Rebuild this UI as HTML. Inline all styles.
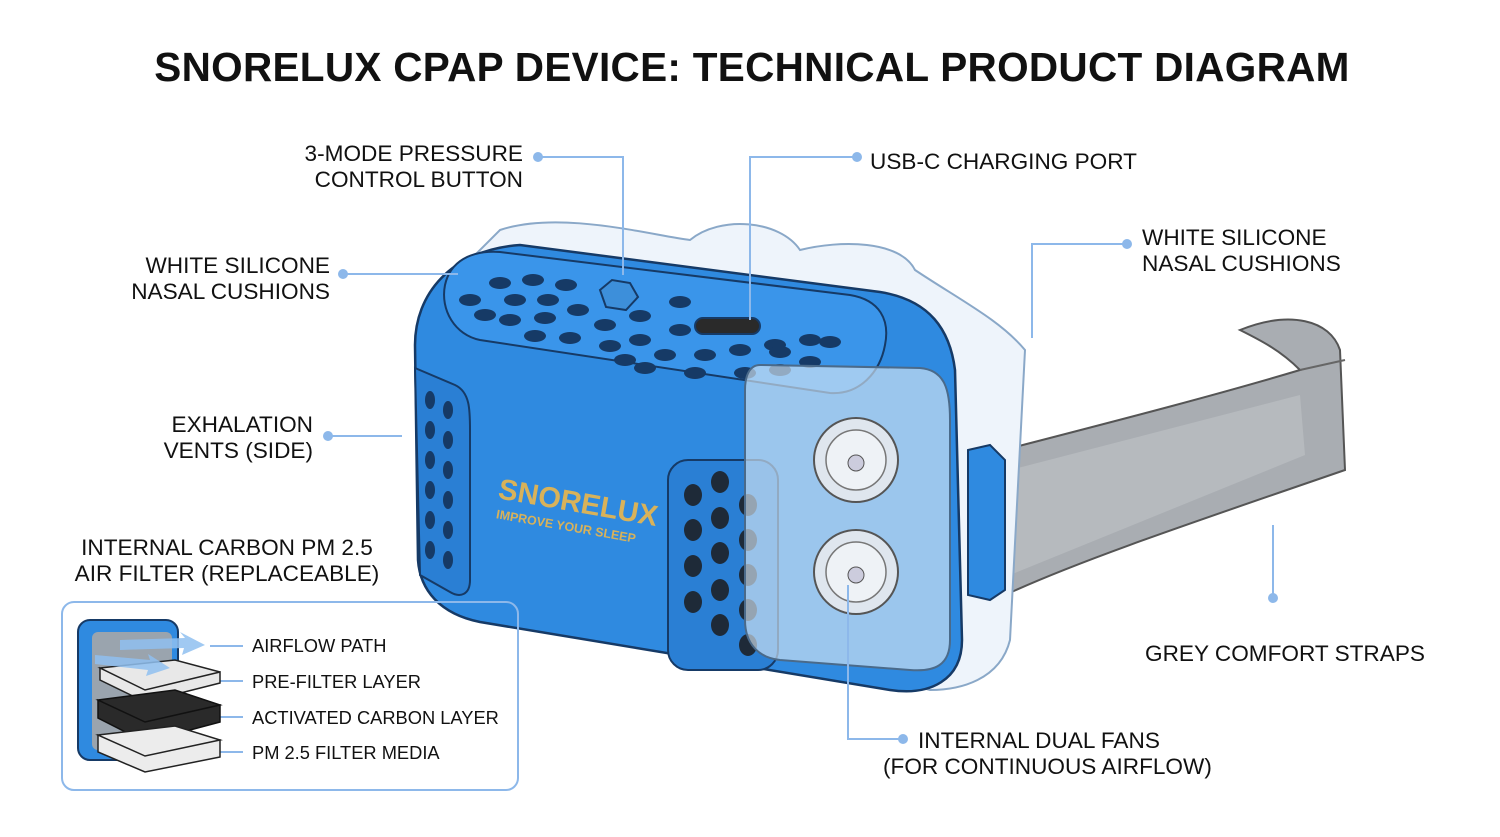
<!DOCTYPE html>
<html><head><meta charset="utf-8"><style>
html,body{margin:0;padding:0;background:#fff;}
svg{display:block;}
text{font-family:"Liberation Sans",sans-serif;fill:#111;}
.l{font-size:22.6px;}
.s{font-size:18.3px;}
</style></head><body>
<svg width="1500" height="837" viewBox="0 0 1500 837" xmlns="http://www.w3.org/2000/svg">
<rect width="1500" height="837" fill="#fff"/>
<text x="752" y="81" font-size="40.5" text-anchor="middle" style="letter-spacing:0.3px" font-weight="bold" fill="#111">SNORELUX CPAP DEVICE: TECHNICAL PRODUCT DIAGRAM</text>

<path d="M1240,330 C1290,310 1330,320 1340,350 L1345,470 C1200,520 1080,560 1005,595 L970,585 L965,460 C1080,430 1200,400 1300,370 C1280,350 1260,340 1240,330Z" fill="#a9adb2" stroke="#555" stroke-width="2"/>
<path d="M1300,370 L1345,360" stroke="#666" stroke-width="2"/>
<path d="M1010,470 L1300,395 L1305,455 L1010,575Z" fill="#b6babe"/>
<path d="M500,230 C560,210 650,235 690,240 C720,215 780,220 800,250 C840,240 900,240 915,270 C960,300 1000,320 1025,350 L1010,640 C1000,680 960,690 930,690 L600,600 L470,260 Z" fill="#eef4fb" stroke="#8aa8c8" stroke-width="2"/>
<path d="M415,345 C415,295 450,250 520,245 L880,292 C930,300 950,330 955,370 L962,640 C962,680 930,696 890,690 L480,622 C440,614 420,590 418,560 Z" fill="#2f8ae0" stroke="#163a66" stroke-width="2.5"/>
<path d="M445,285 C450,262 470,250 500,252 L850,295 C880,300 890,320 885,345 C880,372 860,395 830,393 L480,340 C455,335 440,310 445,285Z" fill="#3a95ea" stroke="#163a66" stroke-width="2"/>
<g fill="#163a66">
<ellipse cx="470" cy="300" rx="11" ry="6"/><ellipse cx="500" cy="283" rx="11" ry="6"/><ellipse cx="533" cy="280" rx="11" ry="6"/><ellipse cx="566" cy="285" rx="11" ry="6"/>
<ellipse cx="485" cy="315" rx="11" ry="6"/><ellipse cx="515" cy="300" rx="11" ry="6"/><ellipse cx="548" cy="300" rx="11" ry="6"/>
<ellipse cx="510" cy="320" rx="11" ry="6"/><ellipse cx="545" cy="318" rx="11" ry="6"/><ellipse cx="578" cy="310" rx="11" ry="6"/>
<ellipse cx="535" cy="336" rx="11" ry="6"/><ellipse cx="570" cy="338" rx="11" ry="6"/><ellipse cx="605" cy="325" rx="11" ry="6"/><ellipse cx="640" cy="316" rx="11" ry="6"/><ellipse cx="680" cy="302" rx="11" ry="6"/>
<ellipse cx="610" cy="346" rx="11" ry="6"/><ellipse cx="640" cy="340" rx="11" ry="6"/><ellipse cx="680" cy="330" rx="11" ry="6"/><ellipse cx="665" cy="355" rx="11" ry="6"/>
<ellipse cx="705" cy="355" rx="11" ry="6"/><ellipse cx="740" cy="350" rx="11" ry="6"/><ellipse cx="775" cy="345" rx="11" ry="6"/><ellipse cx="810" cy="340" rx="11" ry="6"/><ellipse cx="830" cy="342" rx="11" ry="6"/>
<ellipse cx="745" cy="373" rx="11" ry="6"/><ellipse cx="780" cy="370" rx="11" ry="6"/><ellipse cx="810" cy="362" rx="11" ry="6"/><ellipse cx="780" cy="352" rx="11" ry="6"/>
<ellipse cx="695" cy="373" rx="11" ry="6"/><ellipse cx="625" cy="360" rx="11" ry="6"/><ellipse cx="645" cy="368" rx="11" ry="6"/>
</g>
<path d="M600,290 L612,280 L630,283 L638,297 L626,310 L606,307Z" fill="#3d8fda" stroke="#163a66" stroke-width="2"/>
<rect x="695" y="318" width="65" height="16" rx="8" fill="#2a2a2a" stroke="#163a66" stroke-width="2"/>
<path d="M415,368 L455,385 C470,392 470,410 470,430 L470,580 C470,595 460,598 450,592 L420,575 Z" fill="#2a7fd4" stroke="#163a66" stroke-width="2"/>
<g fill="#163a66">
<ellipse cx="430" cy="400" rx="5" ry="9"/><ellipse cx="448" cy="410" rx="5" ry="9"/><ellipse cx="430" cy="430" rx="5" ry="9"/><ellipse cx="448" cy="440" rx="5" ry="9"/><ellipse cx="430" cy="460" rx="5" ry="9"/><ellipse cx="448" cy="470" rx="5" ry="9"/><ellipse cx="430" cy="490" rx="5" ry="9"/><ellipse cx="448" cy="500" rx="5" ry="9"/><ellipse cx="430" cy="520" rx="5" ry="9"/><ellipse cx="448" cy="530" rx="5" ry="9"/><ellipse cx="430" cy="550" rx="5" ry="9"/><ellipse cx="448" cy="560" rx="5" ry="9"/>
</g>
<rect x="668" y="460" width="110" height="210" rx="20" fill="#2a7fd4" stroke="#163a66" stroke-width="2"/>
<g fill="#1e2a38">
<ellipse cx="693" cy="495" rx="9" ry="11"/><ellipse cx="720" cy="482" rx="9" ry="11"/><ellipse cx="748" cy="505" rx="9" ry="11"/>
<ellipse cx="693" cy="530" rx="9" ry="11"/><ellipse cx="720" cy="518" rx="9" ry="11"/><ellipse cx="748" cy="540" rx="9" ry="11"/>
<ellipse cx="693" cy="566" rx="9" ry="11"/><ellipse cx="720" cy="553" rx="9" ry="11"/><ellipse cx="748" cy="575" rx="9" ry="11"/>
<ellipse cx="693" cy="602" rx="9" ry="11"/><ellipse cx="720" cy="590" rx="9" ry="11"/><ellipse cx="748" cy="610" rx="9" ry="11"/>
<ellipse cx="720" cy="625" rx="9" ry="11"/><ellipse cx="748" cy="645" rx="9" ry="11"/>
</g>
<path d="M760,365 L920,368 C945,370 950,390 950,420 L950,640 C950,665 935,672 910,670 L780,660 C760,658 745,645 745,620 L745,390 C745,375 750,365 760,365Z" fill="#d6e6f5" fill-opacity="0.65" stroke="#4a6a8a" stroke-width="2"/>
<circle cx="856" cy="460" r="42" fill="#dfe6ee" stroke="#555" stroke-width="2"/>
<circle cx="856" cy="460" r="30" fill="#eef2f6" stroke="#777" stroke-width="1.5"/>
<circle cx="856" cy="463" r="8" fill="#ccd" stroke="#555"/>
<circle cx="856" cy="572" r="42" fill="#dfe6ee" stroke="#555" stroke-width="2"/>
<circle cx="856" cy="572" r="30" fill="#eef2f6" stroke="#777" stroke-width="1.5"/>
<circle cx="856" cy="575" r="8" fill="#ccd" stroke="#555"/>
<path d="M968,450 L990,445 L1005,460 L1005,590 L990,600 L968,595 Z" fill="#2f8ae0" stroke="#163a66" stroke-width="2"/>
<g transform="rotate(10 565 505)">
<text x="497" y="510" font-size="29" font-weight="bold" style="fill:#d8b25a">SNORELUX</text>
<text x="499" y="530" font-size="12.5" font-weight="bold" style="fill:#d8b25a">IMPROVE YOUR SLEEP</text>
</g>

<g stroke="#8db8ea" stroke-width="2" fill="none">
<path d="M538,157 H623 V275"/>
<path d="M857,157 H750 V320"/>
<path d="M343,274 H458"/>
<path d="M1127,244 H1032 V338"/>
<path d="M328,436 H402"/>
<path d="M1273,598 V525"/>
<path d="M903,739 H848 V585"/>
<rect x="62" y="602" width="456" height="188" rx="12"/>
<path d="M210,646 H243 M200,681 H243 M200,717 H243 M200,752 H243"/>
</g>
<g fill="#8db8ea">
<circle cx="538" cy="157" r="5"/><circle cx="857" cy="157" r="5"/><circle cx="343" cy="274" r="5"/><circle cx="1127" cy="244" r="5"/><circle cx="328" cy="436" r="5"/><circle cx="1273" cy="598" r="5"/><circle cx="903" cy="739" r="5"/>
<circle cx="200" cy="681" r="4"/><circle cx="200" cy="717" r="4"/><circle cx="200" cy="752" r="4"/>
</g>

<rect x="78" y="620" width="100" height="140" rx="12" fill="#2f8ae0" stroke="#163a66" stroke-width="2"/>
<rect x="92" y="632" width="80" height="118" rx="6" fill="#9aa4ae"/>
<path d="M100,668 L175,660 L220,672 L145,690 Z M100,668 L100,680 L145,702 L220,683 L220,672 L145,690Z" fill="#e8e8e8" stroke="#222" stroke-width="1.5"/>
<path d="M98,700 L175,690 L220,705 L145,722 Z M98,700 L98,718 L145,742 L220,722 L220,705 L145,722Z" fill="#2a2a2a" stroke="#111" stroke-width="1.5"/>
<path d="M98,735 L175,726 L220,740 L145,756 Z M98,735 L98,752 L145,772 L220,757 L220,740 L145,756Z" fill="#ececec" stroke="#222" stroke-width="1.5"/>
<path d="M120,640 L185,638 L180,632 L205,645 L182,655 L184,648 L120,650Z" fill="#8fc0f0" opacity="0.85"/>
<path d="M95,655 L150,660 L148,654 L170,668 L146,676 L148,670 L95,664Z" fill="#8fc0f0" opacity="0.85"/>

<g class="l">
<text x="523" y="161" text-anchor="end">3-MODE PRESSURE</text>
<text x="523" y="187" text-anchor="end">CONTROL BUTTON</text>
<text x="870" y="169">USB-C CHARGING PORT</text>
<text x="330" y="273" text-anchor="end">WHITE SILICONE</text>
<text x="330" y="299" text-anchor="end">NASAL CUSHIONS</text>
<text x="1142" y="245">WHITE SILICONE</text>
<text x="1142" y="271">NASAL CUSHIONS</text>
<text x="313" y="432" text-anchor="end">EXHALATION</text>
<text x="313" y="458" text-anchor="end">VENTS (SIDE)</text>
<text x="227" y="555" text-anchor="middle">INTERNAL CARBON PM 2.5</text>
<text x="227" y="581" text-anchor="middle">AIR FILTER (REPLACEABLE)</text>
<text x="1145" y="661">GREY COMFORT STRAPS</text>
<text x="918" y="748">INTERNAL DUAL FANS</text>
<text x="883" y="774">(FOR CONTINUOUS AIRFLOW)</text>
</g>
<g class="s">
<text x="252" y="652">AIRFLOW PATH</text>
<text x="252" y="688">PRE-FILTER LAYER</text>
<text x="252" y="724">ACTIVATED CARBON LAYER</text>
<text x="252" y="759">PM 2.5 FILTER MEDIA</text>
</g>
</svg>
</body></html>
